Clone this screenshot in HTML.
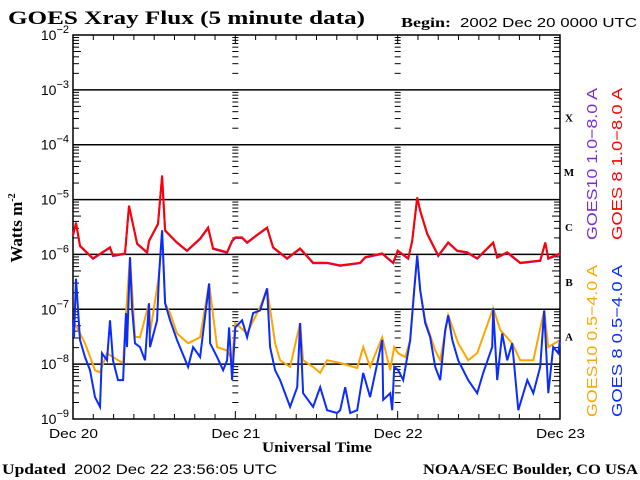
<!DOCTYPE html>
<html><head><meta charset="utf-8">
<style>
html,body{margin:0;padding:0;background:#fff;}
svg{display:block;}
.serif{font-family:"Liberation Serif",serif;font-weight:bold;}
.sans{font-family:"Liberation Sans",sans-serif;}
</style></head>
<body>
<svg id="chart" width="640" height="480" viewBox="0 0 640 480" xmlns="http://www.w3.org/2000/svg">
<text class="serif" x="8" y="24" font-size="19" textLength="357" lengthAdjust="spacingAndGlyphs">GOES Xray Flux (5 minute data)</text>
<text class="serif" x="401" y="27" font-size="14" textLength="50" lengthAdjust="spacingAndGlyphs">Begin:</text>
<text class="sans" x="460" y="27" font-size="13" textLength="177" lengthAdjust="spacingAndGlyphs">2002 Dec 20 0000 UTC</text>
<text class="serif" font-size="17" transform="translate(22,228) rotate(-90)" text-anchor="middle">Watts m<tspan font-size="10" dy="-7">-2</tspan></text>
<text class="serif" x="262" y="452" font-size="15" textLength="110" lengthAdjust="spacingAndGlyphs">Universal Time</text>
<text class="serif" x="2" y="474" font-size="15" textLength="64" lengthAdjust="spacingAndGlyphs">Updated</text>
<text class="sans" x="74" y="474" font-size="14" textLength="203" lengthAdjust="spacingAndGlyphs">2002 Dec 22 23:56:05 UTC</text>
<text class="serif" x="423" y="474" font-size="15" textLength="215" lengthAdjust="spacingAndGlyphs">NOAA/SEC Boulder, CO USA</text>
<g id="axes"></g>
<g id="series"></g>
<g id="labels"></g>
</svg>
<script>
// ---- data (time in hours since 2002 Dec 20 00 UTC, flux as log10 W/m^2) ----
const dayLabels = ["Dec 20","Dec 21","Dec 22","Dec 23"];
const decadeExps = [-2,-3,-4,-5,-6,-7,-8,-9];
const classLetters = ["X","M","C","B","A"];
const classExps = [-3.5,-4.5,-5.5,-6.5,-7.5];

const longTimes = [0,0.44,1.04,2.96,5.47,5.92,7.69,8.28,9.47,10.95,11.24,12.57,13.17,13.61,15.38,16.86,18.79,19.97,20.71,22.78,23.52,
  24.0,25.0,25.74,27.66,28.7,29.59,31.66,33.58,35.5,37.57,39.5,42.46,43.2,45.71,47.34,
  48.0,49.56,50.15,50.89,51.33,52.37,54.0,55.47,56.8,58.28,59.76,62.13,62.72,64.2,66.12,69.08,69.82,70.27,72.0];
const goes8LongLog = [-5.65,-5.42,-5.84,-6.07,-5.87,-6.02,-5.98,-5.11,-5.8,-5.96,-5.75,-5.44,-4.56,-5.56,-5.78,-5.93,-5.71,-5.51,-5.89,-5.96,-5.75,
  -5.69,-5.69,-5.78,-5.6,-5.51,-5.87,-6.07,-5.89,-6.15,-6.15,-6.2,-6.15,-6.05,-5.98,-6.15,
  -5.93,-6.07,-5.75,-4.96,-5.2,-5.62,-6.02,-5.78,-5.93,-5.96,-6.07,-5.78,-6.05,-5.96,-6.15,-6.11,-5.78,-6.07,-5.98];
const goes10LongLog = [-5.66,-5.43,-5.85,-6.08,-5.88,-6.03,-5.99,-5.12,-5.81,-5.97,-5.76,-5.45,-4.58,-5.57,-5.79,-5.94,-5.72,-5.52,-5.9,-5.97,-5.76,
  -5.7,-5.7,-5.79,-5.61,-5.52,-5.88,-6.08,-5.9,-6.16,-6.16,-6.21,-6.16,-6.06,-5.99,-6.16,
  -5.94,-6.08,-5.76,-4.97,-5.21,-5.63,-6.03,-5.79,-5.94,-5.97,-6.08,-5.79,-6.06,-5.97,-6.16,-6.12,-5.79,-6.08,-5.99];

const shortTimes8 = [0,0.15,0.44,1.04,1.78,2.51,3.25,3.99,4.29,5.03,5.47,5.92,6.66,7.4,7.84,7.99,8.43,8.73,9.17,9.91,10.65,11.24,11.39,12.43,12.72,13.17,13.61,14.35,15.38,17.01,17.75,18.79,20.12,20.27,21.3,22.19,22.78,23.08,23.52,
  24.0,25.0,25.74,26.63,27.66,28.7,29.14,29.88,30.62,32.1,33.14,33.58,34.02,35.5,36.54,37.57,39.05,39.5,40.24,40.98,42.01,42.9,43.93,45.71,45.86,46.89,47.19,47.49,
  48.08,48.82,49.85,50.44,50.89,51.33,52.07,52.81,53.55,54.29,55.03,55.47,56.07,56.95,58.43,59.76,60.65,61.98,62.13,62.72,63.46,64.2,64.94,65.83,67.16,68.05,69.08,69.67,70.27,71.0,71.75,72.0];
const goes8ShortLog = [-7.2,-7.51,-6.44,-7.56,-7.87,-8.11,-8.6,-8.78,-7.8,-7.93,-7.2,-7.93,-8.29,-8.29,-7.07,-7.69,-6.05,-6.96,-7.62,-7.69,-7.93,-6.89,-7.69,-7.2,-6.38,-5.56,-6.89,-7.2,-7.56,-8.05,-7.69,-7.87,-6.53,-7.62,-7.87,-8.11,-7.93,-7.33,-8.29,
  -7.33,-7.2,-7.51,-7.07,-7.02,-6.62,-7.69,-8.11,-8.29,-8.78,-8.42,-7.25,-8.53,-8.78,-8.42,-8.84,-8.89,-8.84,-8.42,-8.89,-8.84,-8.16,-8.6,-7.56,-8.65,-8.53,-8.84,-8.05,
  -8.11,-8.29,-7.56,-6.65,-6.02,-6.65,-7.25,-7.51,-8.05,-8.29,-7.38,-7.11,-7.56,-7.93,-8.29,-8.53,-8.16,-7.69,-6.98,-8.29,-7.44,-7.93,-7.62,-8.84,-8.29,-8.53,-8.05,-7.02,-8.53,-7.69,-7.8,-7.56];

const shortTimes10 = [0,1.04,1.78,3.25,3.99,5.03,5.92,6.66,7.4,7.84,8.43,9.17,9.91,11.24,11.39,12.72,13.17,13.61,14.35,15.38,17.01,18.79,20.12,21.3,22.78,23.52,
  24.0,25.74,27.66,28.7,29.88,30.62,32.1,33.58,34.02,35.5,36.54,37.57,39.5,42.01,42.9,43.93,45.71,46.89,47.49,
  48.08,49.11,49.85,50.44,50.89,51.33,52.07,53.55,54.29,55.47,56.95,58.43,59.76,62.13,63.17,64.94,66.12,68.05,69.67,70.27,72.0];
const goes10ShortLog = [-7.2,-7.44,-7.62,-8.11,-8.15,-7.8,-7.87,-7.93,-7.98,-7.07,-6.05,-7.5,-7.51,-6.89,-7.44,-6.38,-5.56,-6.89,-7.07,-7.44,-7.62,-7.51,-6.53,-7.69,-7.75,-7.93,
  -7.25,-7.44,-6.96,-6.62,-7.62,-7.93,-8.05,-7.25,-7.93,-8.05,-8.16,-7.93,-7.98,-8.07,-7.69,-8.05,-7.51,-8.11,-7.69,
  -7.8,-7.87,-7.56,-6.65,-6.02,-6.65,-7.2,-7.75,-7.93,-7.11,-7.62,-7.93,-7.8,-6.98,-7.38,-7.62,-7.93,-7.93,-7.02,-7.69,-7.56];

// ---- layout / scales ----
const X0 = 73, X1 = 560, Y0 = 35, Y1 = 419;
const xScale = h => X0 + (X1 - X0) * h / 72;
const yScale = e => Y1 - (Y1 - Y0) * (e - (-9)) / 7;
const NS = "http://www.w3.org/2000/svg";
function mk(tag, attrs, parent){
  const el = document.createElementNS(NS, tag);
  for (const k in attrs) el.setAttribute(k, attrs[k]);
  parent.appendChild(el);
  return el;
}
const axes = document.getElementById('axes');
const series = document.getElementById('series');
const labels = document.getElementById('labels');

const frame = mk('rect', {x:X0, y:Y0, width:X1-X0, height:Y1-Y0, fill:'none', stroke:'#000', 'stroke-width':1.5}, axes);



decadeExps.forEach(e => {
  const y = yScale(e);
  if (e < -2 && e > -9) {
    const g = mk('line', {x1:X0, x2:X1, y1:y, y2:y, stroke:'#000', 'stroke-width':1.5}, axes);
    
    
  }
  const t = mk('text', {x:X0-4, y:y+5, 'font-size':14, 'text-anchor':'end', 'font-family':'Liberation Sans, sans-serif'}, labels);
  
  
  t.textContent = '10';
  const sup = document.createElementNS(NS, 'tspan');
  sup.setAttribute('font-size', '11'); sup.setAttribute('dy', '-7');
  sup.textContent = String(e).replace('-', '\u2212');
  t.appendChild(sup);
  if (e > -9) {
    for (let m = 2; m <= 9; m++) {
      const ym = yScale(e - 1 + Math.log10(m));
      const len = m === 5 ? 8 : 6;
      [[X0, X0+len],[X1-len, X1]].forEach(([a,b]) => {
        const tk = mk('line', {x1:a, x2:b, y1:ym, y2:ym, stroke:'#000', 'stroke-width':1}, axes);
        
        
      });
      [1,2].forEach(d => {
        const xd = xScale(24*d);
        const tk = mk('line', {x1:xd-3, x2:xd+3, y1:ym, y2:ym, stroke:'#000', 'stroke-width':1}, axes);
        
        
      });
    }
  }
});

for (let h = 3; h < 72; h += 3) {
  const x = xScale(h);
  const len = h % 24 === 0 ? 8 : 5;
  [[Y0, Y0+len],[Y1-len, Y1]].forEach(([a,b]) => {
    const tk = mk('line', {x1:x, x2:x, y1:a, y2:b, stroke:'#000', 'stroke-width':1}, axes);
    
    
  });
}
dayLabels.forEach((d, i) => {
  const t = mk('text', {x:xScale(24*i)-24, y:438, 'font-size':13, textLength:49, lengthAdjust:'spacingAndGlyphs', 'font-family':'Liberation Sans, sans-serif'}, labels);
  
  
  t.textContent = d;
});

classLetters.forEach((c, i) => {
  const t = mk('text', {x:569, y:yScale(classExps[i])+4, 'font-size':11, 'text-anchor':'middle', 'font-family':'Liberation Serif, serif', 'font-weight':'bold'}, labels);
  
  
  t.textContent = c;
});

function drawSeries(times, vals, color, name){
  const d = times.map((h, i) => (i ? 'L' : 'M') + xScale(h).toFixed(1) + ' ' + yScale(vals[i]).toFixed(1)).join(' ');
  const p = mk('path', {d:d, fill:'none', stroke:color, 'stroke-width':2, 'stroke-linejoin':'miter'}, series);
  
  
}
drawSeries(shortTimes10, goes10ShortLog, '#ffa500', 'goes10-short-series');
drawSeries(shortTimes8, goes8ShortLog, '#0a2cff', 'goes8-short-series');
drawSeries(longTimes, goes10LongLog, '#7a2bd6', 'goes10-long-series');
drawSeries(longTimes, goes8LongLog, '#ff0000', 'goes8-long-series');

const legendTexts = ["GOES10 1.0\u22128.0 A","GOES 8 1.0\u22128.0 A","GOES10 0.5\u22124.0 A","GOES 8 0.5\u22124.0 A"];
const legendColors = ['#7a2bd6','#ff0000','#ffa500','#0a2cff'];
const legendPos = [[597,240],[622,240],[597,417],[622,417]];
legendTexts.forEach((s, i) => {
  const [x, y] = legendPos[i];
  const t = mk('text', {x:0, y:0, 'font-size':15, textLength:152, lengthAdjust:'spacingAndGlyphs', fill:legendColors[i], 'font-family':'Liberation Sans, sans-serif', transform:`translate(${x},${y}) rotate(-90)`}, labels);
  
  
  t.textContent = s;
});
</script>
</body></html>
